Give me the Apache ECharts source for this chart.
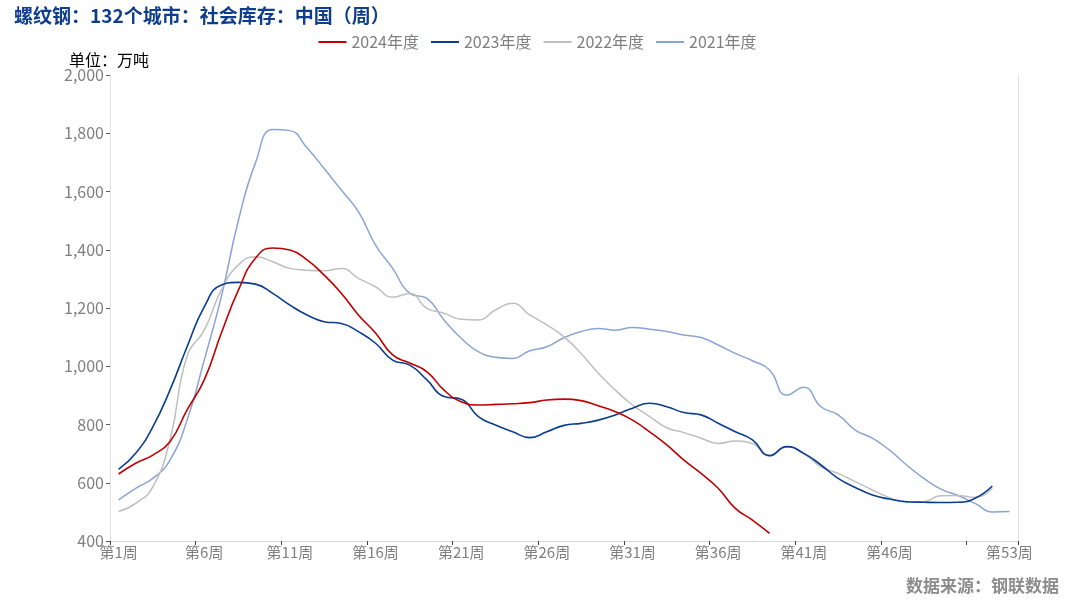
<!DOCTYPE html>
<html>
<head>
<meta charset="utf-8">
<script src="https://cdn.jsdelivr.net/npm/echarts@6/dist/echarts.min.js"></script>
<style>html,body{margin:0;padding:0;background:#fff;}#c{width:1075px;height:609px;}</style>
</head>
<body>
<div id="c"></div>
<script>
var weeks = [];
for (var i = 1; i <= 53; i++) weeks.push('第' + i + '周');

var s2024 = [630,667,695,741,850,953,1114,1262,1372,1406,1399,1365,1313,1251,1176,1114,1039,1011,981,918,
  878,867,869,871,875,884,887,882,864,844,815,775,730,678,632,581,512,472,426];
var s2023 = [646,701,792,918,1067,1204,1279,1288,1282,1250,1210,1176,1153,1147,1119,1079,1021,1004,953,896,
  887,827,798,775,755,775,797,804,815,833,856,873,861,841,833,804,775,747,693,724,
  701,661,615,584,558,544,535,533,532,533,547,589];
var s2022 = [501,529,586,747,1035,1124,1262,1348,1376,1359,1336,1330,1328,1336,1302,1273,1237,1250,1199,1182,
  1161,1159,1193,1216,1176,1142,1101,1044,976,918,867,827,789,772,753,735,743,735,692,723,
  699,655,632,604,575,549,533,535,555,556,550,581];
var s2021 = [541,581,615,678,815,1021,1239,1502,1700,1813,1809,1750,1679,1605,1531,1416,1336,1250,1233,1159,
  1096,1050,1031,1027,1053,1067,1098,1119,1130,1124,1133,1127,1119,1107,1099,1073,1044,1019,987,901,
  928,861,833,781,753,712,661,615,578,556,529,500,501];

var chart = echarts.init(document.getElementById('c'));
function mk(name, data, color, w) {
  return { name: name, type: 'line', data: data, smooth: true, symbol: 'none',
    lineStyle: { color: color, width: w }, itemStyle: { color: color } };
}
chart.setOption({
  animation: false,
  backgroundColor: '#fff',
  title: [{
    text: '螺纹钢：132个城市：社会库存：中国（周）', left: 9, top: 1,
    textStyle: { fontSize: 19, fontWeight: 'bold', color: '#0F3E8C', fontFamily: 'Noto Sans CJK SC' }
  }, {
    text: '单位：万吨', left: 64, top: 47,
    textStyle: { fontSize: 16, fontWeight: 'normal', color: '#000', fontFamily: 'Noto Sans CJK SC' }
  }, {
    text: '数据来源：钢联数据', right: 11, top: 572,
    textStyle: { fontSize: 17, fontWeight: 'bold', color: '#8c8c8c', fontFamily: 'Noto Sans CJK SC' }
  }],
  legend: {
    top: 29, left: 'center', itemWidth: 28, itemHeight: 2, itemGap: 12,
    icon: 'rect',
    textStyle: { fontSize: 16, color: '#7f7f7f', fontFamily: 'Noto Sans CJK SC' },
    data: ['2024年度', '2023年度', '2022年度', '2021年度']
  },
  grid: { left: 110, right: 57, top: 75, bottom: 68, containLabel: false },
  xAxis: {
    type: 'category', data: weeks, boundaryGap: true,
    axisLine: { lineStyle: { color: '#d9d9d9', width: 1 } },
    axisTick: { show: true, length: 4, lineStyle: { color: '#404040' },
      interval: function (idx) { return idx % 5 === 0; } },
    axisLabel: { fontSize: 15, color: '#7f7f7f', margin: 4, fontFamily: 'Noto Sans CJK SC',
      interval: function (idx) { return idx % 5 === 0 && idx < 50 || idx === 52; } }
  },
  yAxis: [{
    type: 'value', min: 400, max: 2000, interval: 200,
    axisLine: { show: true, lineStyle: { color: '#e0e0e0' } },
    axisTick: { show: true, length: 4, lineStyle: { color: '#595959' } },
    splitLine: { show: false },
    axisLabel: { fontSize: 16, color: '#7f7f7f', margin: 6, fontFamily: 'Noto Sans CJK SC',
      formatter: function (v) { return v.toLocaleString('en-US'); } }
  }, {
    type: 'value', position: 'right', min: 400, max: 2000, interval: 200,
    axisLine: { show: true, lineStyle: { color: '#e0e0e0' } },
    axisTick: { show: false }, axisLabel: { show: false }, splitLine: { show: false }
  }],
  series: [
    mk('2021年度', s2021, '#8AA5D4', 1.5),
    mk('2022年度', s2022, '#BFBFBF', 1.5),
    mk('2023年度', s2023, '#0A3D8F', 1.6),
    mk('2024年度', s2024, '#C00000', 1.6)
  ]
});
</script>
</body>
</html>
